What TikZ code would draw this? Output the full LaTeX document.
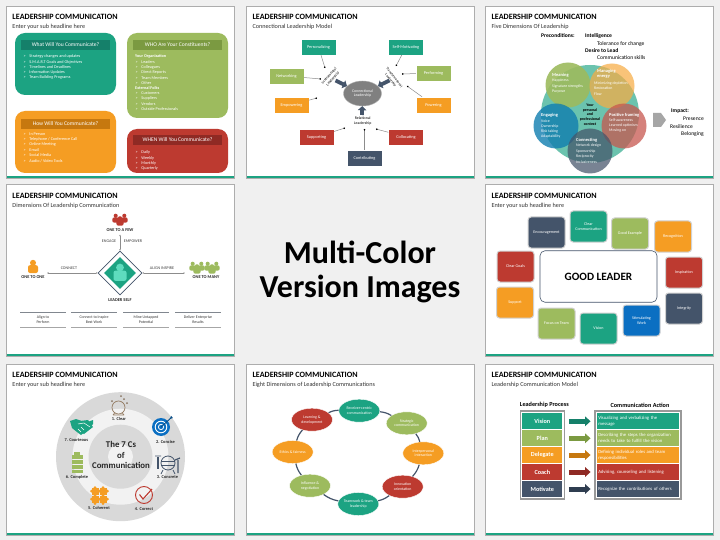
\documentclass[tikz,border=0pt]{standalone}
\usepackage{fontspec}
\setmainfont{Carlito}
\usetikzlibrary{arrows.meta,shapes.geometric}
\definecolor{cTeal}{HTML}{1CA382}
\definecolor{cGreen}{HTML}{9DBB5E}
\definecolor{cOrange}{HTML}{F59D23}
\definecolor{cRed}{HTML}{BD3A30}
\definecolor{cNavy}{HTML}{44546A}
\definecolor{cBlue}{HTML}{0B6FC2}
\definecolor{cMint}{HTML}{5EDCBE}
\definecolor{dTeal}{HTML}{15806A}
\definecolor{dGreen}{HTML}{7B9A41}
\definecolor{dOrange}{HTML}{C6780F}
\definecolor{dRed}{HTML}{8F2A24}
\definecolor{dNavy}{HTML}{2F3D50}
\tikzset{
  titletext/.style={anchor=west,inner sep=0,font=\fontsize{8.1}{8.5}\selectfont\bfseries},
  subtext/.style={anchor=west,inner sep=0,font=\fontsize{6.2}{6.8}\selectfont,text=black!80},
  listhead/.style={minimum width=89,minimum height=10.5,inner sep=0,text=white,font=\fontsize{5.6}{6}\selectfont},
  listitem/.style={anchor=west,inner sep=0,text=white,font=\fontsize{4.2}{4.6}\selectfont},
  modelbox/.style={draw=white,minimum width=35,minimum height=16,inner sep=0,text=white,font=\fontsize{4.3}{4.7}\selectfont},
  dotline/.style={draw=black!45,line width=.5pt,-{Circle[length=1.6pt,black]}},
  blockline/.style={draw=cNavy,line width=3.8pt,-{Triangle[length=4pt,width=8.5pt]}},
  smalltext/.style={inner sep=0,align=center,font=\fontsize{3.9}{4.7}\selectfont},
  blacktext/.style={anchor=west,inner sep=0,font=\fontsize{5.6}{6}\selectfont},
  blackhead/.style={blacktext,font=\fontsize{5.6}{6}\selectfont\bfseries},
  circlebody/.style={anchor=west,inner sep=0,text=white,font=\fontsize{3.9}{4.3}\selectfont},
  circlehead/.style={anchor=west,inner sep=0,text=white,align=left,font=\fontsize{4.5}{5.6}\selectfont\bfseries},
  thinarrow/.style={draw=black!45,line width=.4pt,{Latex[length=1.5pt,width=1.5pt]}-{Latex[length=1.5pt,width=1.5pt]}},
  iconlabel/.style={inner sep=0,font=\fontsize{4.4}{4.8}\selectfont\bfseries,text=black!85},
  capslabel/.style={inner sep=0,font=\fontsize{4.1}{4.5}\selectfont,text=black!75},
  goodbox/.style={draw=black!18,line width=1pt,rounded corners=3pt,minimum width=37,minimum height=31,inner sep=0,align=center,text=white,font=\fontsize{4.1}{5.2}\selectfont},
  dimnode/.style={ellipse,draw=white,line width=.4pt,minimum width=41,minimum height=23,inner sep=0,align=center,text=white,font=\fontsize{3.9}{4.6}\selectfont},
  ringline/.style={draw=cNavy,line width=1.2pt},
  procrow/.style={minimum width=40,minimum height=16,inner sep=0,text=white,font=\fontsize{6.2}{6.6}\selectfont\bfseries},
  actrow/.style={minimum width=82.5,minimum height=16,inner sep=1.5pt,text width=79.5,align=left,text=white,font=\fontsize{4.7}{6}\selectfont},
  rowline/.style={line width=5pt,shorten <=6.4pt,shorten >=6pt,-{Triangle[length=5.5pt,width=9.5pt]}}
}
% one slide: x, y, width, height, name, sub headline
\newcommand{\slidepanel}[6]{
  \fill[black!32] (#1-1,#2-1) rectangle ++(#3+2,#4+2);
  \fill[white] (#1,#2) rectangle ++(#3,#4);
  \fill[cTeal] (#1,#2+#4-2) rectangle ++(#3,2);
  \node[titletext] (#5title) at (#1+5.3,#2+10) {LEADERSHIP COMMUNICATION};
  \node[subtext] (#5sub) at (#1+5.3,#2+20) {#6};
}
\newcommand{\personicon}[4]{
  \begin{scope}[shift={(#1,#2)},scale=#3]
    \fill[#4] (0,-4.2) circle (3);
    \fill[#4,rounded corners=2pt] (-5,6) -- (-5,-1.8) -- (5,-1.8) -- (5,6) -- cycle;
  \end{scope}
}
\newcommand{\peopleicon}[3]{
  \begin{scope}[shift={(#1,#2)}]
    \personicon{-4.3}{-1.4}{.68}{#3}
    \personicon{4.3}{-1.4}{.68}{#3}
    \personicon{0}{1.4}{.72}{#3}
  \end{scope}
}
\newcommand{\bul}{\makebox[5.8pt][l]{\textgreater}}
\begin{document}
\begin{tikzpicture}[x=1pt,y=-1pt]
  \fill[black!6] (0,0) rectangle (720,540);
  \path[use as bounding box] (0,0) rectangle (720,540);
  \slidepanel{7}{7}{227}{171}{a}{Enter your sub headline here}
  \slidepanel{247}{7}{226.5}{171}{b}{Connectional Leadership Model}
  \slidepanel{486}{7}{227}{171}{c}{Five Dimensions Of Leadership}
  \slidepanel{7}{185.5}{227}{170.5}{d}{Dimensions Of Leadership Communication}
  \slidepanel{486}{185.5}{227}{170.5}{e}{Enter your sub headline here}
  \slidepanel{7}{364.5}{227}{170.5}{f}{Enter your sub headline here}
  \slidepanel{247}{364.5}{226.5}{170.5}{g}{Eight Dimensions of Leadership Communications}
  \slidepanel{486}{364.5}{227}{170.5}{h}{Leadership Communication Model}

  % centre text
  \node[inner sep=0,font=\fontsize{32}{36}\selectfont\bfseries] (multi) at (360,252) {Multi-Color};
  \node[inner sep=0,font=\fontsize{32}{36}\selectfont\bfseries] (version) at (360,289) {Version Images};

  % what, who, how, when
  \fill[cTeal,rounded corners=10pt] (15,33) rectangle (116,95);
  \fill[cGreen,rounded corners=10pt] (127,33) rectangle (228,118);
  \fill[cOrange,rounded corners=10pt] (15,111) rectangle (116,173);
  \fill[cRed,rounded corners=10pt] (127,129) rectangle (228,173);
  \node[listhead,fill=dTeal] (what) at (65.5,45) {What Will You Communicate?};
  \node[listhead,fill=dGreen] (who) at (177.5,45) {WHO Are Your Constituents?};
  \node[listhead,fill=dOrange] (how) at (65.5,124) {How Will You Communicate?};
  \node[listhead,fill=dRed] (when) at (177.5,140) {WHEN Will You Communicate?};
  \foreach \t [count=\i] in {Strategy changes and updates,S.M.A.R.T Goals and Objectives,Timelines and Deadlines,Information Updates,Team Building Programs}
    \node[listitem] (wat\i) at (23.5,51.6+5.2*\i) {\bul\t};
  \foreach \t [count=\i] in {In Person,Telephone / Conference Call,Online Meeting,Email,Social Media,Audio / Video Tools}
    \node[listitem] (hw\i) at (23.5,129+5.3*\i) {\bul\t};
  \foreach \t [count=\i] in {Leaders,Colleagues,Direct Reports,Team Members,Other}
    \node[listitem] (org\i) at (135.5,56.7+5.25*\i) {\bul\t};
  \node[listitem,font=\fontsize{4.2}{4.6}\selectfont\bfseries] (orgh) at (135,56.7) {Your Organization};
  \node[listitem,font=\fontsize{4.2}{4.6}\selectfont\bfseries] (exth) at (135,88) {External Folks};
  \foreach \t [count=\i] in {Customers,Suppliers,Vendors,Outside Professionals}
    \node[listitem] (ext\i) at (135.5,88+5.25*\i) {\bul\t};
  \foreach \t [count=\i] in {Daily,Weekly,Monthly,Quarterly}
    \node[listitem] (wn\i) at (135.5,147.3+5.3*\i) {\bul\t};

  % connectional model
  \node[ellipse,fill=black!50,draw=black!30,minimum width=38,minimum height=25,inner sep=0,align=center,text=white,font=\fontsize{3.9}{4.6}\selectfont] (conn) at (362.5,93.5) {Connectional\\Leadership};
  \node[modelbox,fill=cTeal] (pers) at (318.5,47) {Personalizing};
  \node[modelbox,fill=cTeal] (self) at (406,47) {Self-Motivating};
  \node[modelbox,fill=cGreen] (netw) at (286.5,76) {Networking};
  \node[modelbox,fill=cGreen] (perf) at (433.5,73) {Performing};
  \node[modelbox,fill=cOrange] (empo) at (291.5,105) {Empowering};
  \node[modelbox,fill=cOrange] (powr) at (433.5,105) {Powering};
  \node[modelbox,fill=cRed] (supp) at (316.5,137) {Supporting};
  \node[modelbox,fill=cRed] (coll) at (406,137) {Collocating};
  \node[modelbox,fill=cNavy] (cont) at (364.5,158) {Contributing};
  \node[smalltext,rotate=48] (instr) at (331,77.5) {Instrumental\\Leadership};
  \node[smalltext,rotate=-52,font=\fontsize{3.5}{4.5}\selectfont] (trans) at (392.5,79) {Transformational\\Leadership};
  \node[smalltext] (rela) at (362.7,121) {Relational\\Leadership};
  \coordinate (arra) at (335.5,80.5);
  \coordinate (arrb) at (389.5,80.5);
  \coordinate (arrc) at (362,115);
  \draw[blockline] (arra) -- (conn);
  \draw[blockline] (arrb) -- (conn);
  \draw[blockline] (arrc) -- (conn);
  \coordinate (pe) at (325,68);
  \coordinate (ne) at (321,79);
  \coordinate (em) at (317,98);
  \coordinate (se) at (396,66);
  \coordinate (pf) at (402,74);
  \coordinate (pw) at (407,86);
  \coordinate (su) at (345,128);
  \coordinate (co) at (364.5,129);
  \coordinate (cl) at (376,129);
  \draw[dotline] (pers) -- (pe);
  \draw[dotline] (netw) -- (ne);
  \draw[dotline] (empo) -- (em);
  \draw[dotline] (self) -- (se);
  \draw[dotline] (perf) -- (pf);
  \draw[dotline] (powr) -- (pw);
  \draw[dotline] (supp) -- (su);
  \draw[dotline] (cont) -- (co);
  \draw[dotline] (coll) -- (cl);

  % five dimensions
  \node[blackhead] (prec) at (541,36) {Preconditions:};
  \node[blackhead] (intel) at (585,36) {Intelligence};
  \node[blacktext] (toler) at (597,44) {Tolerance for change};
  \node[blackhead] (desire) at (585,51) {Desire to Lead};
  \node[blacktext] (skills) at (597,58) {Communication skills};
  \fill[cTeal!65] (590,114) circle (49);
  \fill[cGreen,opacity=.9] (568,85) circle (22.5);
  \fill[cOrange!85!white,opacity=.72] (612,86) circle (22.5);
  \fill[cBlue!70!cTeal,opacity=.8] (556,126) circle (22.5);
  \fill[cRed!85!white,opacity=.75] (624,126) circle (22.5);
  \fill[cNavy,opacity=.72] (590,151) circle (22.5);
  \node[circlehead] (mean) at (552,75) {Meaning};
  \foreach \t [count=\i] in {Happiness,Signature strengths,Purpose}
    \node[circlebody] (mn\i) at (552,75.5+5.3*\i) {\t};
  \node[circlehead] (mana) at (597,74) {Managing\\energy};
  \foreach \t [count=\i] in {Minimizing depletion,Restoration,Flow}
    \node[circlebody] (ma\i) at (594,77.5+5.5*\i) {\t};
  \node[circlehead] (enga) at (541,115) {Engaging};
  \foreach \t [count=\i] in {Voice,Ownership,Risk taking,Adaptability}
    \node[circlebody] (en\i) at (541,115.5+5.3*\i) {\t};
  \node[circlehead] (posi) at (609,115) {Positive framing};
  \foreach \t [count=\i] in {Self-awareness,Learned optimism,Moving on}
    \node[circlebody] (po\i) at (609,115+5.2*\i) {\t};
  \node[circlehead] (cnct) at (576,140.5) {Connecting};
  \foreach \t [count=\i] in {Network design,Sponsorship,Reciprocity,Inclusiveness}
    \node[circlebody] (cn\i) at (576,140.5+5.3*\i) {\t};
  \node[inner sep=0,align=center,font=\fontsize{4}{4.7}\selectfont\bfseries] (ctxt) at (590,114.5) {Your\\personal\\and\\professional\\context};
  \fill[black!35] (653,113) -- (661,113) -- (666,120) -- (661,127) -- (653,127) -- cycle;
  \node[blackhead] (imp) at (671,111) {Impact:};
  \node[blacktext] (pres) at (683,119) {Presence};
  \node[blacktext] (resi) at (670,126.5) {Resilience};
  \node[blacktext] (belo) at (681,134) {Belonging};

  % leader self
  \peopleicon{120}{220}{cRed}
  \personicon{33}{267}{1}{cOrange}
  \peopleicon{197}{268}{cGreen}
  \peopleicon{212}{268}{cGreen}
  \node[diamond,draw=cNavy,fill=white,line width=.6pt,minimum width=44,minimum height=44,inner sep=0] (leader) at (120,273) {};
  \node[diamond,fill=cTeal,minimum width=32,minimum height=32,inner sep=0] (leaderin) at (120,273) {};
  \personicon{120}{273}{1.3}{cMint}
  \node[iconlabel] (few) at (120,230) {ONE TO A FEW};
  \node[iconlabel] (one) at (33,277) {ONE TO ONE};
  \node[iconlabel] (many) at (206,277) {ONE TO MANY};
  \node[iconlabel] (lself) at (120,300.5) {LEADER SELF};
  \node[capslabel] (enge) at (109,241.5) {ENGAGE};
  \node[capslabel] (empw) at (133,241.5) {EMPOWER};
  \node[capslabel] (cnc) at (69,268) {CONNECT};
  \node[capslabel] (ali) at (162,268) {ALIGN INSPIRE};
  \coordinate (leftend) at (47,273);
  \coordinate (rightend) at (185,273);
  \coordinate (topend) at (120,234.5);
  \draw[thinarrow] (leader.north) -- (topend);
  \draw[thinarrow] (leader.west) -- (leftend);
  \draw[thinarrow] (leader.east) -- (rightend);
  \foreach \a/\t/\u [count=\i] in {43/Align to/Perform,94/Connect to Inspire/Best Work,146/Mine Untapped/Potential,198/Deliver Enterprise/Results}{
    \draw[black!35!cNavy!60,line width=.6pt] (\a-23,312.5) -- (\a+23,312.5);
    \draw[black!35,line width=.5pt] (\a-23,327) -- (\a+23,327);
    \node[smalltext,text=black!80] (col\i) at (\a,319.5) {\t\\\u};
  }

  % good leader
  \node[draw=cNavy,fill=white,line width=.6pt,rounded corners=5pt,minimum width=117,minimum height=51.5,inner sep=0,font=\fontsize{11.2}{12}\selectfont\bfseries] (good) at (598.5,276.5) {GOOD LEADER};
  \node[goodbox,fill=cNavy] (enco) at (546.5,232.5) {Encouragement};
  \node[goodbox,fill=cTeal] (clrc) at (588.5,226.5) {Clear\\Communication};
  \node[goodbox,fill=cGreen] (goex) at (630,233.5) {Good Example};
  \node[goodbox,fill=cOrange] (reco) at (673,236.5) {Recognition};
  \node[goodbox,fill=cRed] (goal) at (515.5,266.5) {Clear Goals};
  \node[goodbox,fill=cRed] (insp) at (684,272.5) {Inspiration};
  \node[goodbox,fill=cOrange] (sppt) at (515,302.5) {Support};
  \node[goodbox,fill=cNavy] (intg) at (684,308.5) {Integrity};
  \node[goodbox,fill=cGreen] (focu) at (556.5,323.5) {Focus on Team};
  \node[goodbox,fill=cTeal] (visn) at (598.5,328.5) {Vision};
  \node[goodbox,fill=cBlue] (stim) at (641.5,320.5) {Stimulating\\Work};

  % seven Cs
  \fill[black!15] (120.5,456.7) circle (64.5);
  \fill[black!5] (120.5,456.7) circle (48);
  \fill[black!15] (120.5,456.7) circle (32);
  \fill[black!5] (120.5,456.7) circle (12.5);
  \node[inner sep=0,align=center,font=\fontsize{8.8}{10.6}\selectfont\bfseries,text=black!85] (seven) at (121,455.2) {The 7 Cs\\of\\Communication};
  \node[iconlabel] (c1) at (119,419) {1. Clear};
  \node[iconlabel] (c2) at (165.5,441.5) {2. Concise};
  \node[iconlabel] (c3) at (167.5,477.5) {3. Concrete};
  \node[iconlabel] (c4) at (144,508.7) {4. Correct};
  \node[iconlabel] (c5) at (99,508.3) {5. Coherent};
  \node[iconlabel] (c6) at (77,477.7) {6. Complete};
  \node[iconlabel] (c7) at (76.3,440) {7. Courteous};
  % crystal ball
  \draw[black!45!brown!70,line width=.7pt] (118.5,407.5) circle (6.5);
  \draw[black!45!brown!70,line width=.7pt] (113,415) -- (124,415) (115,412.5) -- (113,415) (122,412.5) -- (124,415);
  \foreach \a/\b in {112/401,121/396,124/399,127/403}
    \fill[black!55!brown!70] (\a,\b) circle (1);
  % target
  \fill[cBlue] (161,427) circle (9);
  \draw[white,line width=.9pt] (161,427) circle (5.8);
  \draw[white,line width=.8pt] (161,427) circle (2.6);
  \draw[cBlue!70!black,line width=.9pt,-{Latex[length=3pt,width=3pt,reversed]}] (161,427) -- (172,417);
  % mixer
  \draw[cNavy,line width=.8pt] (168,463) circle (7);
  \draw[cNavy,line width=.8pt] (161,461) -- (175,461) (161,465) -- (175,465);
  \draw[cNavy,line width=1.4pt] (158,457) -- (158,469);
  \draw[cNavy,line width=.8pt] (155,456) -- (161,456) (163,470) -- (161,474) (173,470) -- (175,474);
  \draw[cNavy,line width=1.2pt] (178,460) -- (178,473) (175,460) -- (180,458);
  % check
  \draw[cRed,line width=.9pt] (144,495) circle (8.5);
  \draw[cRed,line width=1.1pt] (139.5,494.5) -- (143,499) -- (152,489);
  % puzzle
  \foreach \a/\b in {95/491,103/491,95/499,103/499}{
    \fill[cOrange] (\a-3.5,\b-3.5) rectangle (\a+3.5,\b+3.5);
    \fill[cOrange] (\a,\b-3.5) circle (1.5);
    \fill[cOrange] (\a-3.5,\b) circle (1.5);
  }
  \fill[cOrange] (107.5,491) circle (1.5) (107.5,499) circle (1.5) (95,503.5) circle (1.5) (103,503.5) circle (1.5);
  % battery
  \fill[cGreen] (74,452) rectangle (80,454.5);
  \foreach \b in {454.5,459.5,464.5,469}
    \fill[cGreen] (71.5,\b+.6) rectangle (82.5,\b+4.2);
  % handshake
  \fill[cTeal] (70,421) -- (76,419) -- (86,422.5) -- (93,420) -- (93,424) -- (86,431) -- (81,435) -- (77,432) -- (72,428) -- cycle;
  \fill[cTeal] (80,421) -- (88,420) -- (93,427) -- (84,434) -- (79,431) -- cycle;
  \draw[white,line width=.5pt] (78,424) -- (84,423) -- (90,427) (78,429) -- (81,432) (81,427) -- (84,430);

  % eight dimensions
  \node[dimnode,fill=cTeal] (recv) at (359.3,410.7) {Receiver-centric\\communication};
  \node[dimnode,fill=cGreen] (strg) at (406.7,423.3) {Strategic\\communication};
  \node[dimnode,fill=cOrange] (intp) at (423.3,453.3) {Interpersonal\\interaction};
  \node[dimnode,fill=cRed] (inno) at (402.7,486.7) {Innovation\\orientation};
  \node[dimnode,fill=cTeal] (team) at (358.3,504) {Teamwork \& team\\leadership};
  \node[dimnode,fill=cGreen] (infl) at (310,485.7) {Influence \&\\negotiation};
  \node[dimnode,fill=cOrange] (ethi) at (292.7,452) {Ethics \& fairness};
  \node[dimnode,fill=cRed] (lear) at (312,419.7) {Learning \&\\development};
  \draw[ringline] (recv) to[bend left=12] (strg);
  \draw[ringline] (strg) to[bend left=12] (intp);
  \draw[ringline] (intp) to[bend left=12] (inno);
  \draw[ringline] (inno) to[bend left=12] (team);
  \draw[ringline] (team) to[bend left=12] (infl);
  \draw[ringline] (infl) to[bend left=12] (ethi);
  \draw[ringline] (ethi) to[bend left=12] (lear);
  \draw[ringline] (lear) to[bend left=12] (recv);

  % process and action
  \node[inner sep=0,font=\fontsize{6.2}{6.6}\selectfont\bfseries] (prochead) at (544.3,405.3) {Leadership Process};
  \node[inner sep=0,font=\fontsize{6.2}{6.6}\selectfont\bfseries] (acthead) at (640,405.3) {Communication Action};
  \draw[black!40,fill=white,line width=1.3pt] (520.5,411) rectangle (564.5,499);
  \draw[black!40,fill=white,line width=1.3pt] (595,411) rectangle (681,499);
  \node[procrow,fill=cTeal] (vis) at (542.3,421.3) {Vision};
  \node[procrow,fill=cGreen] (pla) at (542.3,438.3) {Plan};
  \node[procrow,fill=cOrange] (del) at (542.3,455) {Delegate};
  \node[procrow,fill=cRed] (coa) at (542.3,472) {Coach};
  \node[procrow,fill=cNavy] (mot) at (542.3,489) {Motivate};
  \node[actrow,fill=cTeal] (avis) at (638,421.3) {Visualizing and verbalizing the\\message};
  \node[actrow,fill=cGreen] (apla) at (638,438.3) {Describing the steps the organization\\needs to take to fulfill the vision};
  \node[actrow,fill=cOrange] (adel) at (638,455) {Defining individual roles and team\\responsibilities};
  \node[actrow,fill=cRed] (acoa) at (638,472) {Advising, counseling and listening};
  \node[actrow,fill=cNavy] (amot) at (638,489) {Recognize the contributions of others};
  \draw[rowline,dTeal] (vis) -- (avis);
  \draw[rowline,dGreen] (pla) -- (apla);
  \draw[rowline,dOrange] (del) -- (adel);
  \draw[rowline,dRed] (coa) -- (acoa);
  \draw[rowline,dNavy] (mot) -- (amot);
\end{tikzpicture}
\end{document}
